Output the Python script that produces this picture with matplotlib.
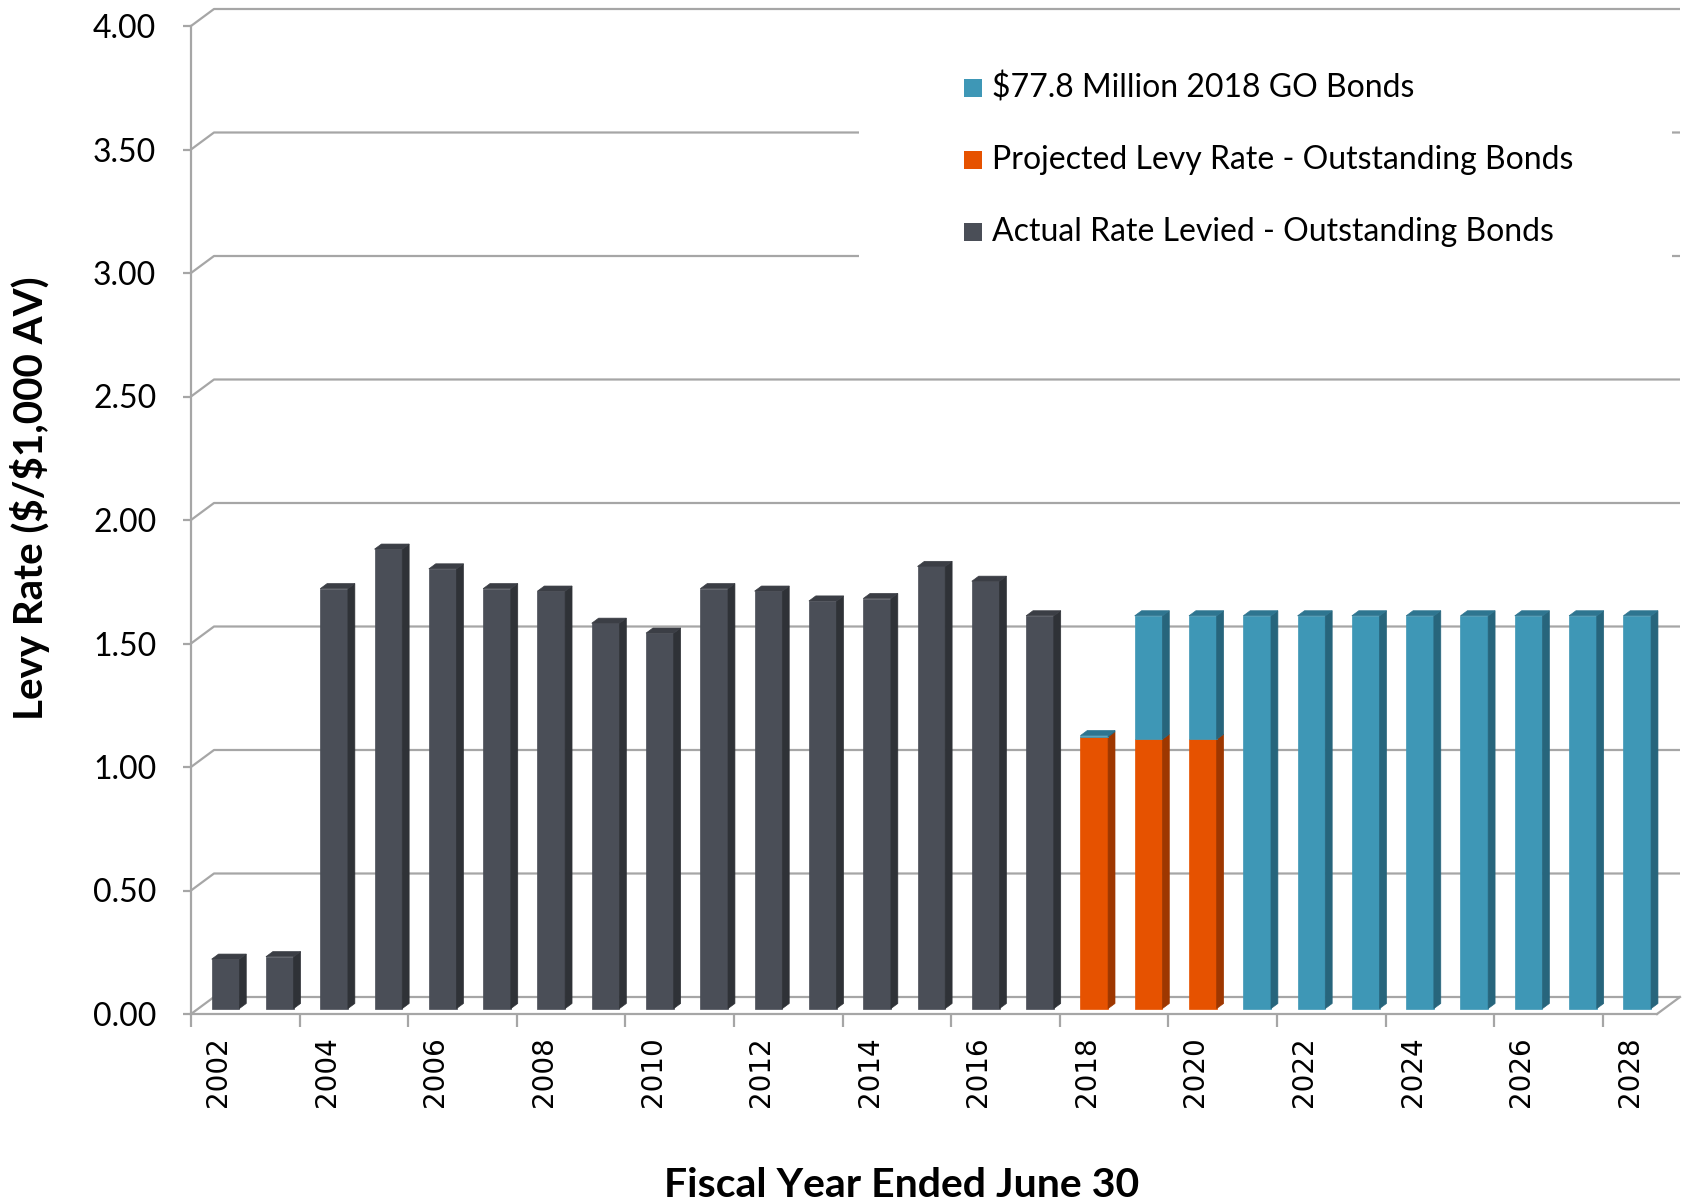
import matplotlib
matplotlib.use("Agg")
import matplotlib.pyplot as plt
from matplotlib.patches import Polygon, Rectangle

# Levy rate per $1,000 assessed value, fiscal years 2002-2028
years = list(range(2002, 2029))
actual_levied = [0.20, 0.21, 1.70, 1.86, 1.78, 1.70, 1.69, 1.56, 1.52,
                 1.70, 1.69, 1.65, 1.66, 1.79, 1.73, 1.59] + [0] * 11
projected_levy = [0] * 16 + [1.10, 1.09, 1.09] + [0] * 8
go_bonds_2018 = [0] * 16 + [0.005, 0.50, 0.50] + [1.59] * 8

series_names = ["Actual Rate Levied - Outstanding Bonds",
                "Projected Levy Rate - Outstanding Bonds",
                "\\$77.8 Million 2018 GO Bonds"]
y_ticks = [0, 0.5, 1.0, 1.5, 2.0, 2.5, 3.0, 3.5, 4.0]

# front / side / top shades for each series
faces = [("#4a4e57", "#2f3237", "#3b3e45"),
         ("#e65200", "#9e3700", "#b84300"),
         ("#3e97b6", "#27657c", "#2e7590")]
GRID = "#a6a6a6"

W, H = 1684, 1201
fig = plt.figure(figsize=(W / 100, H / 100), dpi=100)
plt.rcParams["font.family"] = ["Lato", "DejaVu Sans"]

# plot box in pixels: left 191, right 1657, floor front at 1014, top at 26
ax = fig.add_axes([191 / W, (H - 1014) / H, (1657 - 191) / W, (1014 - 26) / H])
n = len(years)
ax.set_xlim(0, n)
ax.set_ylim(0, 4)

# depth of the pseudo-3D box, in data units
DX = 23 / ((1657 - 191) / n)
DY = 17 / ((1014 - 26) / 4)
d0, d1 = 0.32, 0.62      # front / back of the columns inside the depth
bw = 0.51                # column width as a fraction of a category

# back wall gridlines plus the side-wall diagonals
for v in y_ticks:
    ax.plot([0, DX, n + DX], [v, v + DY, v + DY], color=GRID, lw=1.6,
            clip_on=False, zorder=1, solid_capstyle="butt")
ax.plot([n, n + DX], [0, DY], color=GRID, lw=1.6, clip_on=False, zorder=1)


def column(i, base, top, cols, cap):
    x0 = i + (1 - bw) / 2 + d0 * DX
    x1 = x0 + bw
    b = base + d0 * DY
    t = top + d0 * DY
    ddx, ddy = (d1 - d0) * DX, (d1 - d0) * DY
    front, side, topc = cols
    ax.add_patch(Polygon([(x0, b), (x1, b), (x1, t), (x0, t)],
                         closed=True, fc=front, ec=front, lw=0.5,
                         zorder=3, clip_on=False))
    ax.add_patch(Polygon([(x1, b), (x1 + ddx, b + ddy), (x1 + ddx, t + ddy), (x1, t)],
                         closed=True, fc=side, ec=side, lw=0.5,
                         zorder=3, clip_on=False))
    if cap:
        ax.add_patch(Polygon([(x0, t), (x1, t), (x1 + ddx, t + ddy), (x0 + ddx, t + ddy)],
                             closed=True, fc=topc, ec=topc, lw=0.5,
                             zorder=4, clip_on=False))


stacks = [actual_levied, projected_levy, go_bonds_2018]
for i in range(n):
    base = 0.0
    vals = [s[i] for s in stacks]
    last = max(k for k, v in enumerate(vals) if v > 0)
    for k, v in enumerate(vals):
        if v <= 0:
            continue
        column(i, base, base + v, faces[k], k == last)
        base += v

# axes styling
for side in ("top", "right"):
    ax.spines[side].set_visible(False)
ax.spines["left"].set_color(GRID)
ax.spines["bottom"].set_color(GRID)
ax.spines["left"].set_linewidth(1.6)
ax.spines["bottom"].set_linewidth(1.6)
ax.set_facecolor("none")

ax.set_yticks(y_ticks)
ax.set_yticklabels([f"{v:.2f}" for v in y_ticks], fontsize=23)
ax.tick_params(axis="y", length=6, width=1.6, color=GRID, pad=19)

label_idx = list(range(0, n, 2))
ax.set_xticks([i + 0.5 for i in label_idx])
ax.set_xticklabels([str(years[i]) for i in label_idx], rotation=90,
                   fontsize=20, family="DejaVu Sans", va="top")
ax.tick_params(axis="x", which="major", length=0, pad=16)
ax.set_xticks(list(range(0, n, 2)), minor=True)
ax.tick_params(axis="x", which="minor", length=9, width=1.6, color=GRID)

# legend on a white panel that hides the gridlines behind it
def fx(px):
    return px / W


def fy(py):
    return (H - py) / H


fig.patches.append(Rectangle((fx(859), fy(292)), fx(1672) - fx(859), fy(40) - fy(292),
                             transform=fig.transFigure, fc="white", ec="none", zorder=5))
legend_rows = [(2, 88), (1, 160), (0, 232)]
for k, yc in legend_rows:
    fig.patches.append(Rectangle((fx(964), fy(yc + 9)), fx(982) - fx(964), fy(yc - 9) - fy(yc + 9),
                                 transform=fig.transFigure, fc=faces[k][0], ec="none", zorder=6))
    fig.text(fx(992), fy(yc), series_names[k], fontsize=23, va="center", ha="left",
             zorder=7)

fig.text(fx(30), fy(498), "Levy Rate (\\$/\\$1,000 AV)", rotation=90, fontsize=29,
         fontweight="bold", ha="center", va="center")
fig.text(fx(902), fy(1197), "Fiscal Year Ended June 30", fontsize=29.5,
         fontweight="bold", ha="center", va="baseline")

fig.savefig("out.png", dpi=100, facecolor="white")
